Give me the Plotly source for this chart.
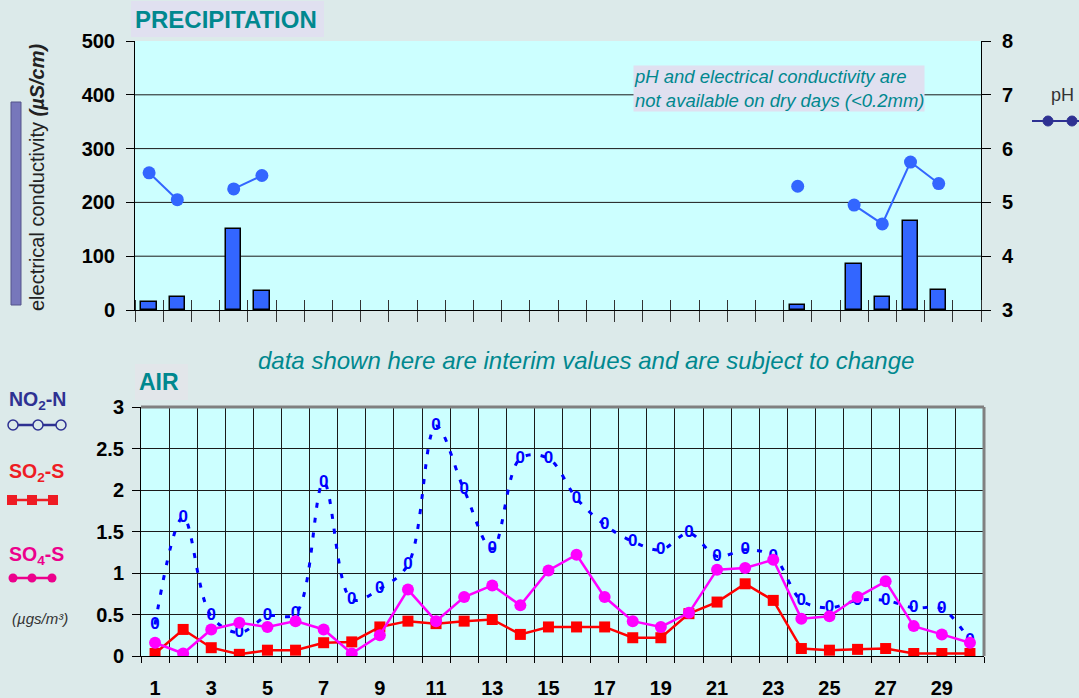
import plotly.graph_objects as go

W, H = 1079, 698
FONT = "Liberation Sans, Arial, sans-serif"
TEAL = "#00888F"
LAV = "#E0E0F0"
PAGE = "#DCEAEA"
PLOTBG = "#CCFFFF"

days = list(range(1, 31))

# ---- Precipitation (top chart) ----
ec = [15, 25, None, 150, 35, None, None, None, None, None,
      None, None, None, None, None, None, None, None, None, None,
      None, None, None, 10, None, 85, 25, 165, 38, None]
ph = [5.55, 5.05, None, 5.25, 5.5, None, None, None, None, None,
      None, None, None, None, None, None, None, None, None, None,
      None, None, None, 5.3, None, 4.95, 4.6, 5.75, 5.35, None]
ec_ticks = [0, 100, 200, 300, 400, 500]
ph_ticks = [3, 4, 5, 6, 7, 8]

# ---- Air (bottom chart) ----
no2_n = [0.38, 1.67, 0.48, 0.28, 0.48, 0.51, 2.09, 0.68, 0.81, 1.10,
         2.77, 2.00, 1.29, 2.38, 2.38, 1.90, 1.58, 1.38, 1.28, 1.48,
         1.20, 1.28, 1.20, 0.67, 0.58, 0.67, 0.67, 0.58, 0.57, 0.18]
so2_s = [0.03, 0.32, 0.10, 0.02, 0.07, 0.07, 0.16, 0.17, 0.35, 0.42,
         0.39, 0.42, 0.44, 0.26, 0.35, 0.35, 0.35, 0.22, 0.22, 0.51,
         0.65, 0.87, 0.67, 0.09, 0.07, 0.08, 0.09, 0.03, 0.03, 0.03]
so4_s = [0.16, 0.03, 0.32, 0.40, 0.35, 0.42, 0.32, 0.03, 0.25, 0.80,
         0.42, 0.71, 0.85, 0.61, 1.03, 1.22, 0.71, 0.42, 0.35, 0.52,
         1.04, 1.06, 1.16, 0.45, 0.48, 0.71, 0.90, 0.36, 0.26, 0.16]
air_ticks = [0, 0.5, 1, 1.5, 2, 2.5, 3]
air_ticktext = ["0", "0.5", "1", "1.5", "2", "2.5", "3"]
day_labels = [str(d) for d in range(1, 30, 2)]


def px_x(x):
    return x / W


def px_y(y):
    return 1 - y / H


boundaries = [d + 0.5 for d in range(0, 31)]

fig = go.Figure()

fig.add_trace(go.Bar(
    x=days, y=ec, width=0.55, xaxis="x", yaxis="y",
    marker=dict(color="#3366FF", line=dict(color="black", width=1.5)),
    showlegend=False,
))
fig.add_trace(go.Scatter(
    x=days, y=ph, xaxis="x", yaxis="y2", mode="lines+markers",
    line=dict(color="#3366FF", width=2), marker=dict(size=13, color="#3366FF"),
    connectgaps=False, showlegend=False,
))

fig.add_trace(go.Scatter(
    x=days, y=no2_n, xaxis="x2", yaxis="y3", mode="lines+text",
    text=["0"] * len(days), textposition="middle center",
    textfont=dict(family=FONT, size=17, color="#0000FF", weight="bold"),
    line=dict(color="#0000FF", width=3, dash="5px,10px", shape="spline", smoothing=1.0),
    showlegend=False,
))
fig.add_trace(go.Scatter(
    x=days, y=so2_s, xaxis="x2", yaxis="y3", mode="lines+markers",
    line=dict(color="#FF0000", width=2.5),
    marker=dict(symbol="square", size=11, color="#FF0000"),
    showlegend=False,
))
fig.add_trace(go.Scatter(
    x=days, y=so4_s, xaxis="x2", yaxis="y3", mode="lines+markers",
    line=dict(color="#FF00FF", width=2.5),
    marker=dict(symbol="circle", size=12, color="#FF00FF"),
    showlegend=False,
))

tickfont = dict(family=FONT, size=20, color="black", weight="bold")

top_dom_x = [px_x(135), px_x(981)]
top_dom_y = [px_y(310), px_y(41)]
bot_dom_x = [px_x(141), px_x(984)]
bot_dom_y = [px_y(656), px_y(407)]

fig.update_layout(
    width=W, height=H,
    margin=dict(l=0, r=0, t=0, b=0, autoexpand=False),
    paper_bgcolor=PAGE, plot_bgcolor=PLOTBG,
    font=dict(family=FONT),
    bargap=0,
    xaxis=dict(domain=top_dom_x, range=[0.5, 30.5], anchor="y", automargin=False,
               tickmode="array", tickvals=boundaries, showticklabels=False,
               ticks="outside", ticklen=11, tickcolor="#333", tickwidth=1,
               minor=dict(tickmode="array", tickvals=boundaries, ticks="inside",
                          ticklen=10, tickcolor="#333", tickwidth=1, showgrid=False),
               showgrid=False, zeroline=False, showline=True, linecolor="black", linewidth=1),
    yaxis=dict(domain=top_dom_y, range=[0, 500], anchor="x", automargin=False,
               tickmode="array", tickvals=ec_ticks, ticks="outside", ticklen=8,
               tickcolor="black", tickfont=tickfont, ticklabelstandoff=7,
               showgrid=False, zeroline=False, showline=True, linecolor="black", linewidth=1),
    yaxis2=dict(range=[3, 8], overlaying="y", side="right", anchor="x", automargin=False,
                tickmode="array", tickvals=ph_ticks, ticks="outside", ticklen=9,
                tickcolor="black", tickfont=tickfont, ticklabelstandoff=7,
                showgrid=False, zeroline=False, showline=True, linecolor="black", linewidth=1),
    xaxis2=dict(domain=bot_dom_x, range=[0.5, 30.5], anchor="y3", automargin=False,
                tickmode="array", tickvals=list(range(1, 30, 2)), ticktext=day_labels,
                ticks="outside", ticklen=14, tickcolor="rgba(0,0,0,0)",
                tickfont=dict(family=FONT, size=20, color="black", weight="bold"),
                minor=dict(tickmode="array", tickvals=boundaries, ticks="outside",
                           ticklen=6, tickcolor="black", tickwidth=1,
                           showgrid=True, gridcolor="#1a1a1a", gridwidth=1),
                showgrid=False, zeroline=False, showline=True, linecolor="black", linewidth=1),
    yaxis3=dict(domain=bot_dom_y, range=[0, 3], anchor="x2", automargin=False,
                tickmode="array", tickvals=air_ticks, ticktext=air_ticktext,
                ticks="outside", ticklen=8, tickcolor="black",
                tickfont=dict(family=FONT, size=20, color="black", weight="bold"),
                ticklabelstandoff=4,
                showgrid=True, gridcolor="#1a1a1a", gridwidth=1,
                zeroline=False, showline=True, linecolor="black", linewidth=1),
)

shapes = []
# top chart gridlines
for v in [100, 200, 300, 400]:
    shapes.append(dict(type="line", xref="x domain", yref="y", x0=0, x1=1, y0=v, y1=v,
                       line=dict(color="#1a1a1a", width=1), layer="below"))
# bottom chart grey border (top and right)
shapes.append(dict(type="line", xref="x2 domain", yref="y3 domain", x0=0, x1=1, y0=1, y1=1,
                   line=dict(color="#808080", width=3)))
shapes.append(dict(type="line", xref="x2 domain", yref="y3 domain", x0=1, x1=1, y0=0, y1=1,
                   line=dict(color="#808080", width=3)))
# purple bar at left
shapes.append(dict(type="rect", xref="paper", yref="paper",
                   x0=px_x(11), x1=px_x(21), y0=px_y(305), y1=px_y(102),
                   fillcolor="#7777BB", line=dict(color="#55558A", width=1)))
# title boxes
shapes.append(dict(type="rect", xref="paper", yref="paper",
                   x0=px_x(131), x1=px_x(324), y0=px_y(37), y1=px_y(1),
                   fillcolor=LAV, line=dict(width=0), layer="below"))
shapes.append(dict(type="rect", xref="paper", yref="paper",
                   x0=px_x(135), x1=px_x(188), y0=px_y(400), y1=px_y(364),
                   fillcolor="#E2E6EA", line=dict(width=0), layer="below"))

# pH legend
PHC = "#2E3192"
shapes.append(dict(type="line", xref="paper", yref="paper",
                   x0=px_x(1032), x1=px_x(1079), y0=px_y(121), y1=px_y(121),
                   line=dict(color=PHC, width=2)))
for cx in [1048, 1072]:
    shapes.append(dict(type="circle", xref="paper", yref="paper",
                       x0=px_x(cx - 5), x1=px_x(cx + 5), y0=px_y(126), y1=px_y(116),
                       fillcolor=PHC, line=dict(color=PHC, width=1)))

# NO2 legend symbols
NOC = "#2E3192"
shapes.append(dict(type="line", xref="paper", yref="paper",
                   x0=px_x(13), x1=px_x(61), y0=px_y(425), y1=px_y(425),
                   line=dict(color=NOC, width=2.5)))
for cx in [13, 38, 61]:
    shapes.append(dict(type="circle", xref="paper", yref="paper",
                       x0=px_x(cx - 5), x1=px_x(cx + 5), y0=px_y(430), y1=px_y(420),
                       fillcolor=PAGE, line=dict(color=NOC, width=1.5)))
# SO2 legend symbols
SOC = "#EE1C24"
shapes.append(dict(type="line", xref="paper", yref="paper",
                   x0=px_x(10), x1=px_x(55), y0=px_y(500), y1=px_y(500),
                   line=dict(color=SOC, width=2.5)))
for cx in [12, 32, 53]:
    shapes.append(dict(type="rect", xref="paper", yref="paper",
                       x0=px_x(cx - 5), x1=px_x(cx + 5), y0=px_y(505), y1=px_y(495),
                       fillcolor=SOC, line=dict(width=0)))
# SO4 legend symbols
S4C = "#EC008C"
shapes.append(dict(type="line", xref="paper", yref="paper",
                   x0=px_x(12), x1=px_x(53), y0=px_y(578), y1=px_y(578),
                   line=dict(color=S4C, width=2.5)))
for cx in [13, 32, 52]:
    shapes.append(dict(type="circle", xref="paper", yref="paper",
                       x0=px_x(cx - 4.5), x1=px_x(cx + 4.5), y0=px_y(582.5), y1=px_y(573.5),
                       fillcolor=S4C, line=dict(width=0)))

fig.update_layout(shapes=shapes)

ann = []


def text_at(x, y, text, size, color, xanchor="center", yanchor="middle", **kw):
    d = dict(xref="paper", yref="paper", x=px_x(x), y=px_y(y), text=text,
             showarrow=False, xanchor=xanchor, yanchor=yanchor,
             font=dict(family=FONT, size=size, color=color))
    d.update(kw)
    ann.append(d)


text_at(226, 19, "<b>PRECIPITATION</b>", 24, TEAL)
text_at(159, 382, "<b>AIR</b>", 23, TEAL)
text_at(586, 360, "<i>data shown here are interim values and are subject to change</i>", 24, TEAL)
text_at(633, 65, "<i>pH and electrical conductivity are<br>not available on dry days (&lt;0.2mm)</i>",
        18.5, TEAL, xanchor="left", yanchor="top", bgcolor=LAV, align="left", borderpad=0)
text_at(37, 177, "electrical conductivity <b><i>(µS/cm)</i></b>", 20, "#222",
        textangle=-90)
text_at(1062, 95, "pH", 18, "#333")
text_at(37, 400, "<b>NO<sub>2</sub>-N</b>", 19.5, NOC)
text_at(36, 472, "<b>SO<sub>2</sub>-S</b>", 19.5, SOC)
text_at(36, 555, "<b>SO<sub>4</sub>-S</b>", 19.5, S4C)
text_at(40, 618, "<i>(µgs/m³)</i>", 15, "#333")

fig.update_layout(annotations=ann)

fig.write_html(
    "out.html",
    config={"displayModeBar": False},
    post_script=("document.body.style.margin='0';"
                 "document.body.style.overflow='hidden';"
                 "document.body.style.background='" + PAGE + "';"),
)
